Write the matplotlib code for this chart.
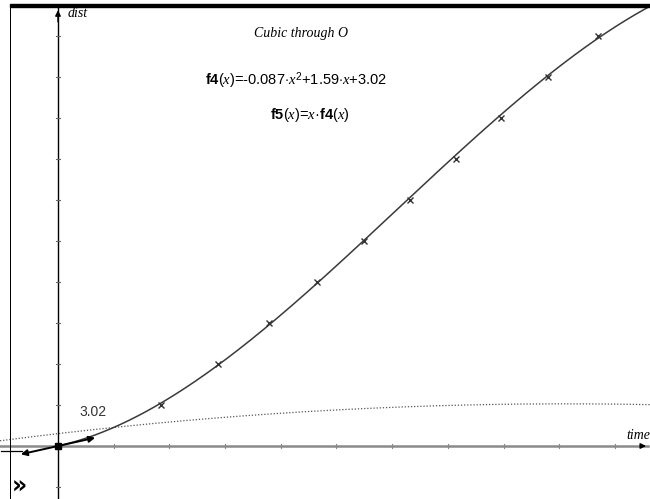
import numpy as np
import matplotlib
matplotlib.use("Agg")
import matplotlib.pyplot as plt
from matplotlib.patches import Rectangle

# 100 m split times (s) at each 10 m mark
split_dist = [10, 20, 30, 40, 50, 60, 70, 80, 90, 100]
split_time = [1.85, 2.87, 3.78, 4.65, 5.50, 6.32, 7.14, 7.96, 8.79, 9.69]

# f4(x) = a*x^2 + b*x + c  (speed), f5(x) = x*f4(x)  (distance)
coef_a, coef_b, coef_c = -0.087, 1.59, 3.02

x_ticks = [1, 2, 3, 4, 5, 6, 7, 8, 9, 10]
y_ticks = [-10, 10, 20, 30, 40, 50, 60, 70, 80, 90, 100]

plt.rcParams["mathtext.fontset"] = "custom"
plt.rcParams["mathtext.rm"] = "Liberation Sans"
plt.rcParams["mathtext.it"] = "Liberation Serif:italic"
plt.rcParams["mathtext.bf"] = "Liberation Sans:bold"


def f4(x):
    return coef_a * x**2 + coef_b * x + coef_c


def f5(x):
    return x * f4(x)


W, H = 650, 499
px_x, px_y = 55.7, 4.1       # pixels per unit
ox, oy = 58, 446             # origin in pixels

fig = plt.figure(figsize=(W / 100, H / 100), dpi=100)
ax = fig.add_axes([0, 0, 1, 1])
ax.set_xlim(-ox / px_x, (W - ox) / px_x)
ax.set_ylim((oy - H) / px_y, oy / px_y)
ax.axis("off")
xmin, xmax = ax.get_xlim()
ymin, ymax = ax.get_ylim()

# window frame: top bar and left border
fig.patches.append(Rectangle((10 / W, 1 - 7 / H), 1, 3 / H, transform=fig.transFigure,
                             color="black", zorder=10))
fig.patches.append(Rectangle((10 / W, 0), 1.2 / W, 1 - 7 / H, transform=fig.transFigure,
                             color="black", lw=0, zorder=10))

# axes
ax.plot([xmin, xmax - 0.03], [0, 0], color="#8a8a8a", lw=1.8, zorder=1)
ax.annotate("", xy=(xmax - 0.02, 0), xytext=(xmax - 0.2, 0),
            arrowprops=dict(arrowstyle="-|>", color="black", lw=1, mutation_scale=8))
ax.plot([0, 0], [ymin, ymax - 2], color="black", lw=1, zorder=1)
ax.annotate("", xy=(0, ymax - 1.8), xytext=(0, ymax - 6),
            arrowprops=dict(arrowstyle="-|>", color="black", lw=1, mutation_scale=8))
for t in x_ticks:
    ax.plot([t, t], [-0.5, 0.5], color="#888888", lw=0.8)
for t in y_ticks:
    ax.plot([-0.03, 0.03], [t, t], color="#666666", lw=0.8)

ax.text(0.17, ymax - 3.4, "dist", fontsize=10, style="italic", family="Liberation Serif",
        va="center", ha="left")
ax.text(xmax - 0.42, 2.6, "time", fontsize=10, style="italic", family="Liberation Serif",
        va="center", ha="left")

# curves
xs = np.linspace(0, xmax, 400)
ax.plot(xs, f5(xs), color="#3a3a3a", lw=1.1, zorder=3)
xd = np.linspace(xmin, xmax, 400)
ax.plot(xd, f4(xd), color="#555555", lw=0.9, ls=(0, (1, 1.5)), zorder=2)
ax.plot(split_time, split_dist, ls="none", marker="x", ms=4, mew=1, color="#333333", zorder=4)

# tangent at origin
tx = 0.667
ax.annotate("", xy=(tx, coef_c * tx), xytext=(-tx, -coef_c * tx),
            arrowprops=dict(arrowstyle="<|-|>", color="black", lw=1.4, mutation_scale=9,
                            shrinkA=0, shrinkB=0), zorder=5)
ax.plot([xmin + 0.02, -0.64], [-1.2, -1.2], color="black", lw=0.9)
ax.plot([0], [0], marker="s", ms=4, color="black", zorder=6)
ax.text(0.63, 8.3, "3.02", fontsize=10, color="#333333", ha="center", va="center",
        family="Liberation Sans")

# annotations
ax.text((301 - ox) / px_x, (oy - 33) / px_y, "Cubic through O", fontsize=10,
        style="italic", family="Liberation Serif", ha="center", va="center")
ax.text((296 - ox) / px_x, (oy - 81) / px_y,
        r"$\mathbf{f4}(\mathit{x})$=-0.087$\cdot\mathit{x}^{2}$+1.59$\cdot\mathit{x}$+3.02",
        fontsize=10.5, family="Liberation Sans", ha="center", va="center")
ax.text((310 - ox) / px_x, (oy - 115) / px_y,
        r"$\mathbf{f5}(\mathit{x})$=$\mathit{x}$·$\mathbf{f4}(\mathit{x})$",
        fontsize=10.5, family="Liberation Sans", ha="center", va="center")

ax.text((19 - ox) / px_x, (oy - 487) / px_y, "»", fontsize=17, fontweight="bold",
        ha="center", va="center", family="DejaVu Sans")

fig.savefig("out.png", dpi=100)
